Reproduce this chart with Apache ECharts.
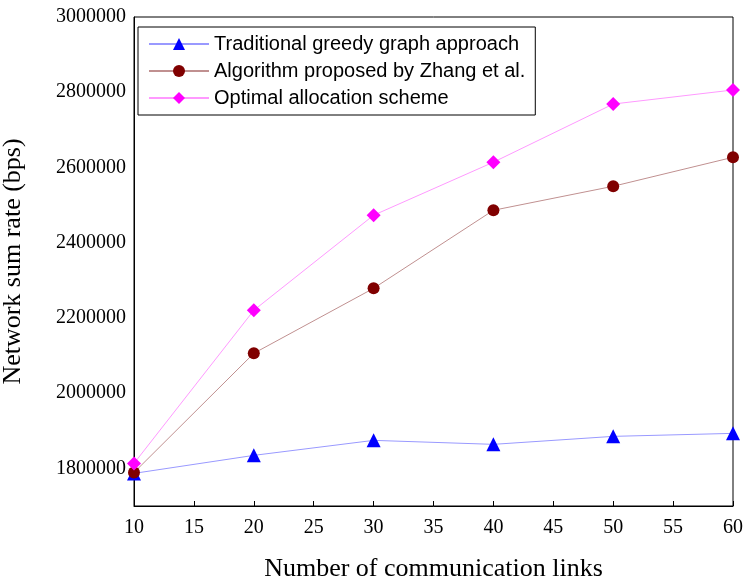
<!DOCTYPE html><html><head><meta charset="utf-8"><script src="https://cdn.jsdelivr.net/npm/echarts@6/dist/echarts.min.js"></script></head><body style="margin:0"><div id="c" style="width:747px;height:584px"></div><script>
const xs=[10,20,30,40,50,60];
const greedy=[1786700,1834600,1874500,1863900,1885100,1893100];
const zhang=[1789000,2105900,2278700,2486200,2550000,2627100];
const optimal=[1813300,2220200,2473000,2614000,2768600,2806000];
const ch=echarts.init(document.getElementById('c'));
const f='Liberation Serif';
function s(name,d,color,sym,size,lc){return{name,type:'line',data:xs.map((x,i)=>[x,d[i]]),symbol:sym,symbolSize:size,itemStyle:{color},lineStyle:{color:lc,width:1},animation:false};}
ch.setOption({
grid:{left:134,right:14,top:17,bottom:78,show:true,borderColor:'#000',borderWidth:1,containLabel:false,outerBoundsMode:'none'},
legend:{orient:'vertical',left:138,top:27,padding:[7,10,7,10],itemGap:7,borderColor:'#000',borderWidth:1,backgroundColor:'#fff',itemWidth:60,itemHeight:15,textStyle:{fontFamily:'Liberation Sans',fontSize:20,color:'#000'},data:['Traditional greedy graph approach','Algorithm proposed by Zhang et al.','Optimal allocation scheme']},
xAxis:{type:'value',min:10,max:60,interval:5,name:'Number of communication links',nameLocation:'middle',nameGap:50,nameTextStyle:{fontFamily:f,fontSize:26,color:'#000'},axisLine:{lineStyle:{color:'#000'}},axisTick:{inside:true,length:5,lineStyle:{color:'#000'}},axisLabel:{fontFamily:f,fontSize:20,color:'#000',margin:12},splitLine:{show:false}},
yAxis:{type:'value',min:1700000,max:3000000,interval:100000,name:'Network sum rate (bps)',nameLocation:'middle',nameGap:108,nameTextStyle:{fontFamily:f,fontSize:26,color:'#000'},axisLine:{show:true,lineStyle:{color:'#000'}},axisTick:{show:false},axisLabel:{fontFamily:f,fontSize:20,color:'#000',formatter:v=>(Math.round(v/100000)%2===0?String(v):'')},splitLine:{show:false}},
series:[s('Traditional greedy graph approach',greedy,'#0000ff','triangle',14,'#9999ff'),s('Algorithm proposed by Zhang et al.',zhang,'#800000','circle',12,'#c09090'),s('Optimal allocation scheme',optimal,'#ff00ff','diamond',14,'#ff99ff')]
});
</script></body></html>
